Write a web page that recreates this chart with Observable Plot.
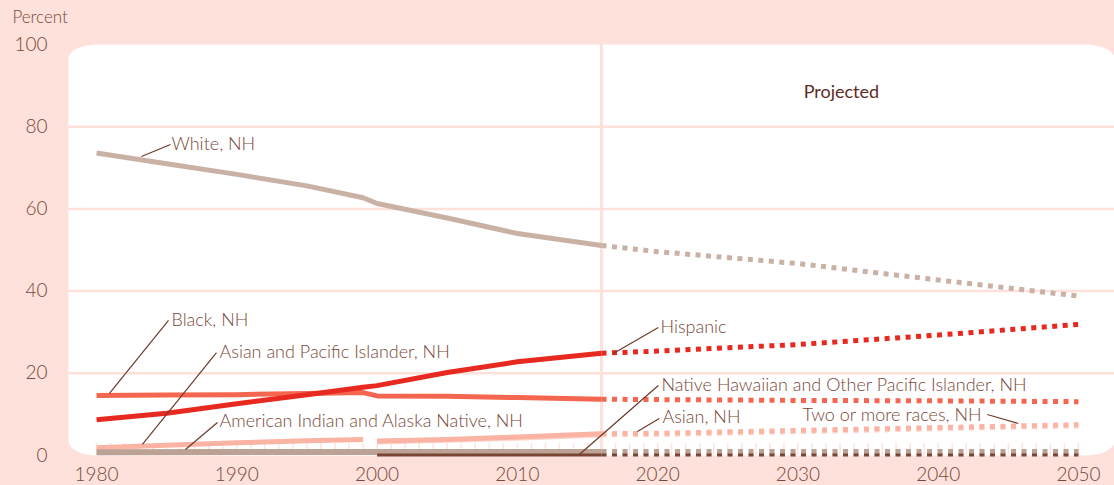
<!DOCTYPE html>
<html><head><meta charset="utf-8">
<script src="https://cdn.jsdelivr.net/npm/d3@7"></script>
<script src="https://cdn.jsdelivr.net/npm/@observablehq/plot@0.6"></script>
<style>
html,body{margin:0;padding:0;background:#fde1da;}
#chart svg{display:block;}
</style></head>
<body><div id="chart"></div>
<script>
// ---- data ----
const histYears = [1980, 1985, 1990, 1995, 1999, 2000, 2005, 2010, 2016];
const projYears = [2016, 2020, 2030, 2040, 2050];

const whiteHist    = [73.6, 71.0, 68.4, 65.6, 62.7, 61.3, 57.8, 54.0, 51.1];
const whiteProj    = [51.1, 49.6, 46.7, 42.7, 38.8];
const hispanicHist = [8.7, 10.3, 12.6, 14.8, 16.6, 17.0, 20.2, 22.8, 24.9];
const hispanicProj = [24.9, 25.4, 27.0, 29.3, 31.9];
const blackHist    = [14.6, 14.7, 14.8, 15.1, 15.3, 14.5, 14.4, 14.1, 13.7];
const blackProj    = [13.7, 13.6, 13.4, 13.3, 13.1];

const apiYears = [1980, 1985, 1990, 1995, 1999];
const apiHist  = [1.9, 2.5, 3.1, 3.6, 3.9];

const newYears      = [2000, 2005, 2010, 2016];
const asianHist     = [3.5, 3.9, 4.5, 5.3];
const asianProj     = [5.3, 5.4, 6.1, 6.8, 7.5];
const twoMoreHist   = [3.3, 3.7, 4.2, 5.0];
const twoMoreProj   = [5.0, 5.1, 5.8, 6.5, 7.2];
const nhpiHist      = [0.1, 0.1, 0.1, 0.1];
const nhpiProj      = [0.1, 0.1, 0.1, 0.1, 0.1];
const aianYears     = [1980, 1990, 2000, 2010, 2016];
const aianHist      = [0.8, 0.85, 0.85, 0.85, 0.85];
const aianProj      = [0.85, 0.85, 0.85, 0.85, 0.85];

const projectionStart = 2016;
const xTicks = [1980, 1990, 2000, 2010, 2020, 2030, 2040, 2050];
const yTicks = [0, 20, 40, 60, 80, 100];
const minorYears = d3.range(1980, 2051);

const labelNames = ["White, NH", "Black, NH", "Asian and Pacific Islander, NH",
  "American Indian and Alaska Native, NH", "Hispanic",
  "Native Hawaiian and Other Pacific Islander, NH", "Asian, NH", "Two or more races, NH"];
const labelYear  = [1985.34, 1985.34, 1988.76, 1988.76, 2020.2, 2020.27, 2020.34, 2030.32];
const labelValue = [75.67, 32.85, 25.06, 8.27, 31.14, 17.03, 9.25, 9.73];
const leadFromYear  = [1983.2, 1980.92, 1983.27, 1986.34, 2016.84, 2014.42, 2018.56, 2043.5];
const leadFromValue = [72.75, 15.09, 2.68, 1.46, 24.82, 0.24, 5.84, 9.98];
const leadToYear    = [1985.27, 1985.13, 1988.55, 1988.62, 2020.05, 2020.05, 2020.12, 2045.71];
const leadToValue   = [75.67, 32.85, 25.06, 8.03, 31.14, 17.03, 9.0, 7.79];

// ---- styles ----
const bg = "#fde1da";
const textColor = "#7a4838";
const leaderColor = "#6e3a2b";

const series = [
  {name: "twoMore", hx: newYears, h: twoMoreHist, p: twoMoreProj, color: "#fdd6cc", w: 5},
  {name: "api", hx: apiYears, h: apiHist, p: null, color: "#fbb3a3", w: 5},
  {name: "asian", hx: newYears, h: asianHist, p: asianProj, color: "#fbb3a3", w: 5},
  {name: "aian", hx: aianYears, h: aianHist, p: aianProj, color: "#bca294", w: 6},
  {name: "nhpi", hx: newYears, h: nhpiHist, p: nhpiProj, color: "#7b4535", w: 3},
  {name: "black", hx: histYears, h: blackHist, p: blackProj, color: "#f4664f", w: 5},
  {name: "hispanic", hx: histYears, h: hispanicHist, p: hispanicProj, color: "#e8291f", w: 5},
  {name: "white", hx: histYears, h: whiteHist, p: whiteProj, color: "#c9b1a5", w: 5}
];

const lineMarks = [];
for (const s of series) {
  const hd = s.hx.map((yr, i) => ({year: yr, value: s.h[i]}));
  lineMarks.push(Plot.line(hd, {x: "year", y: "value", stroke: s.color, strokeWidth: s.w,
    strokeLinejoin: "round", strokeLinecap: "butt"}));
  if (s.p) {
    const pd = projYears.map((yr, i) => ({year: yr, value: s.p[i]}));
    lineMarks.push(Plot.line(pd, {x: "year", y: "value", stroke: s.color, strokeWidth: s.w,
      strokeDasharray: "5,5.5", strokeLinecap: "butt"}));
  }
}

const labels = labelNames.map((t, i) => ({text: t, x: labelYear[i], y: labelValue[i],
  x1: leadFromYear[i], y1: leadFromValue[i], x2: leadToYear[i], y2: leadToValue[i]}));

const chart = Plot.plot({
  width: 1114,
  height: 485,
  marginLeft: 68,
  marginRight: 0,
  marginTop: 44,
  marginBottom: 30,
  style: {background: bg, fontFamily: "Lato, 'Open Sans', sans-serif", fontSize: "18px", fontWeight: 300, overflow: "visible"},
  x: {domain: [1978, 2052.57], label: null},
  y: {domain: [0, 100], label: null},
  marks: [
    Plot.frame({fill: "white", stroke: null, rx: 30, ry: 14}),
    Plot.gridY(yTicks.filter(d => d > 0 && d < 100), {stroke: bg, strokeOpacity: 1, strokeWidth: 2.5}),
    Plot.ruleX([projectionStart], {stroke: bg, strokeWidth: 3}),
    Plot.ruleX(minorYears, {y1: 0, y2: 2.9, stroke: "#fde4dd", strokeWidth: 1.5}),
    ...lineMarks,
    Plot.axisX({ticks: xTicks, tickFormat: d => String(d), tickSize: 0, tickPadding: 12,
      fill: textColor, fontSize: 19, fontWeight: 300, label: null}),
    Plot.axisY({ticks: yTicks, tickSize: 0, tickPadding: 21, fill: textColor, fontSize: 19, fontWeight: 300, label: null}),
    Plot.link(labels, {x1: "x1", y1: "y1", x2: "x2", y2: "y2", stroke: leaderColor, strokeWidth: 1.2}),
    Plot.text(labels, {x: "x", y: "y", text: "text", textAnchor: "start", fill: textColor, fontSize: 18, fontWeight: 300}),
    Plot.text(["Projected"], {x: 2033.1, y: 88.3, text: d => d, fill: "#5e2c1e", fontSize: 18, fontWeight: 400, textAnchor: "middle"}),
    Plot.text(["Percent"], {x: 1974.0, y: 106.6, text: d => d, fill: textColor, fontSize: 17, fontWeight: 300, textAnchor: "start"})
  ]
});
document.getElementById("chart").appendChild(chart);
</script>
</body></html>
